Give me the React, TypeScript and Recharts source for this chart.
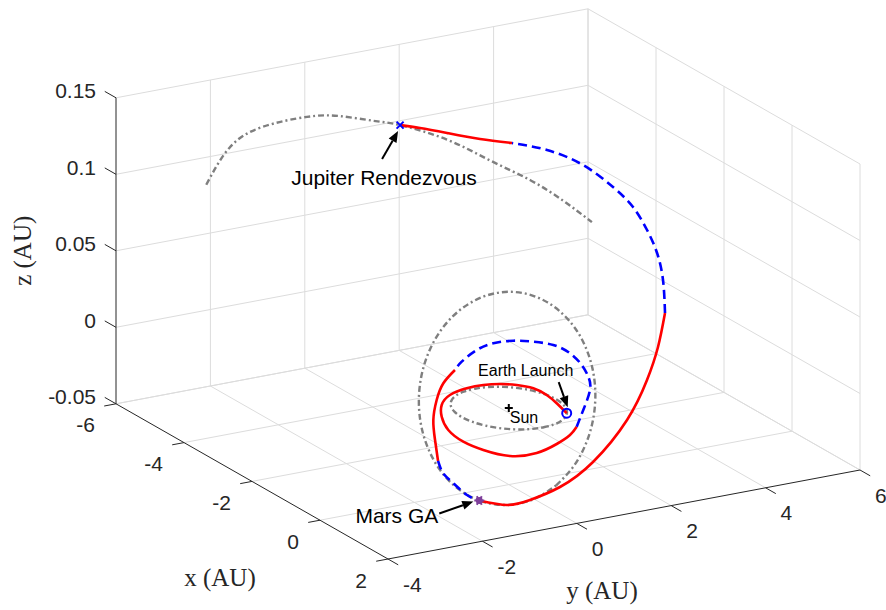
import React from 'react'
import { ComposedChart, XAxis, YAxis, Line, Scatter, ReferenceLine } from 'recharts'

type P3 = [number, number, number]

// axis ticks (AU)
const xTicks = [-6, -4, -2, 0, 2]
const yTicks = [-4, -2, 0, 2, 4, 6]
const zTicks = [-0.05, 0, 0.05, 0.1, 0.15]
const zTickLabels = ['-0.05', '0', '0.05', '0.1', '0.15']

// heliocentric orbits, x y z in AU
const earthOrbit: P3[] = [
  [1, 0, 0], [0.966, 0.259, 0], [0.866, 0.5, 0], [0.707, 0.707, 0], [0.5, 0.866, 0],
  [0.259, 0.966, 0], [0, 1, 0], [-0.259, 0.966, 0], [-0.5, 0.866, 0], [-0.707, 0.707, 0],
  [-0.866, 0.5, 0], [-0.966, 0.259, 0], [-1, 0, 0], [-0.966, -0.259, 0], [-0.866, -0.5, 0],
  [-0.707, -0.707, 0], [-0.5, -0.866, 0], [-0.259, -0.966, 0], [0, -1, 0], [0.259, -0.966, 0],
  [0.5, -0.866, 0], [0.707, -0.707, 0], [0.866, -0.5, 0], [0.966, -0.259, 0], [1, 0, 0],
]

const marsOrbit: P3[] = [
  [1.392, 0, -0.0329], [1.36, 0.365, -0.0241], [1.24, 0.716, -0.0135], [1.033, 1.033, -0.0017],
  [0.748, 1.295, 0.0109], [0.397, 1.48, 0.0232], [0, 1.569, 0.0346], [-0.415, 1.549, 0.0439],
  [-0.816, 1.414, 0.0504], [-1.169, 1.169, 0.0534], [-1.441, 0.832, 0.0524], [-1.606, 0.43, 0.0474],
  [-1.65, 0, 0.039], [-1.572, -0.421, 0.0279], [-1.383, -0.799, 0.0151], [-1.105, -1.105, 0.0018],
  [-0.762, -1.321, -0.0111], [-0.385, -1.437, -0.0225], [0, -1.455, -0.0321], [0.369, -1.378, -0.0391],
  [0.702, -1.216, -0.0434], [0.982, -0.982, -0.0448], [1.197, -0.691, -0.0435], [1.336, -0.358, -0.0394],
  [1.392, 0, -0.0329],
]

const jupiterArc: P3[] = [
  [-3.04, -4.22, 0.132], [-4.44, -2.71, 0.13], [-4.93, -1.66, 0.131], [-5.17, -0.55, 0.128],
  [-5.2, 0.16, 0.124], [-5.13, 0.82, 0.118], [-5.03, 1.32, 0.1135], [-4.75, 2.11, 0.103],
  [-4.4, 2.77, 0.09], [-4.0, 3.33, 0.079], [-3.6, 3.75, 0.068], [-3.22, 4.08, 0.057],
]

// events
const earthLaunch: P3 = [0.62, 0.78, 0]
const marsFlyby: P3 = [0.763, -1.175, -0.0439]
const jupiterArrival: P3 = [-5.03, 1.32, 0.1135]
const sun: P3 = [0, 0, 0]

// transfer trajectory, thrust arcs and coast arcs
const thrust1: P3[] = [
  earthLaunch, [0.045, 0.982, -0.002], [-0.29, 1.012, -0.001], [-0.588, 0.943, 0], [-0.837, 0.77, 0],
  [-0.998, 0.532, 0], [-1.081, 0.239, 0], [-1.134, -0.075, -0.001], [-1.056, -0.486, -0.002],
  [-0.788, -0.854, -0.003], [-0.453, -1.095, -0.005], [-0.068, -1.233, -0.008], [0.376, -1.235, -0.01],
  [0.726, -1.063, -0.012], [1.094, -0.763, -0.013], [1.291, -0.339, -0.011], [1.326, 0.06, -0.007],
  [1.311, 0.352, -0.003], [1.217, 0.562, 0],
]
const coast1: P3[] = [
  [1.217, 0.562, 0], [0.855, 0.962, 0.004], [0.485, 1.371, 0.01], [0.373, 1.416, 0.017],
  [0.167, 1.425, 0.022], [-0.194, 1.437, 0.025], [-0.549, 1.338, 0.0265], [-0.881, 1.154, 0.0255],
  [-1.126, 0.907, 0.0245], [-1.319, 0.622, 0.022], [-1.418, 0.341, 0.018], [-1.431, 0.033, 0.012],
  [-1.395, -0.136, 0.008],
]
const thrust2: P3[] = [
  [-1.395, -0.136, 0.008], [-1.32, -0.436, 0.002], [-1.197, -0.666, -0.006], [-0.92, -0.936, -0.014],
  [-0.548, -1.168, -0.021], [-0.246, -1.322, -0.03],
]
const coast2: P3[] = [
  [-0.246, -1.322, -0.03], [0.018, -1.407, -0.034], [0.241, -1.356, -0.038], [0.572, -1.298, -0.042],
  marsFlyby,
]
const thrust3: P3[] = [
  marsFlyby, [1.222, -0.918, -0.0425], [1.522, -0.647, -0.037], [1.712, -0.149, -0.029],
  [1.873, 0.435, -0.014], [1.621, 1.337, 0.005], [1.344, 1.96, 0.024], [1.094, 2.373, 0.04],
  [0.777, 2.75, 0.056],
]
const coast3: P3[] = [
  [0.777, 2.75, 0.056], [0.49, 2.914, 0.073], [0.113, 3.06, 0.085], [-0.258, 3.115, 0.095],
  [-0.66, 3.107, 0.105], [-1.224, 3.089, 0.111], [-1.94, 2.97, 0.117], [-2.666, 2.73, 0.119],
  [-3.311, 2.453, 0.117],
]
const thrust4: P3[] = [
  [-3.311, 2.453, 0.117], [-3.759, 2.098, 0.116], [-4.351, 1.825, 0.114], [-4.742, 1.535, 0.114],
  jupiterArrival,
]

// fixed 3-D view: screen position of the (2, -4, -0.05) corner and pixels per AU on each axis
const W = 886
const H = 610
const X0 = 2, Y0 = -4, Z0 = -0.05
const ORIGIN = [388, 559]
const EX = [34, 19.4]
const EY = [47.2, -8.9]
const EZ = [0, -1530]

const project = ([x, y, z]: P3) => {
  const dx = x - X0, dy = y - Y0, dz = z - Z0
  return {
    sx: ORIGIN[0] + EX[0] * dx + EY[0] * dy + EZ[0] * dz,
    sy: ORIGIN[1] + EX[1] * dx + EY[1] * dy + EZ[1] * dz,
  }
}
const proj = (pts: P3[]) => pts.map(project)

const xMin = xTicks[0], xMax = xTicks[xTicks.length - 1]
const yMin = yTicks[0], yMax = yTicks[yTicks.length - 1]
const zMin = zTicks[0], zMax = zTicks[zTicks.length - 1]

// grid on the floor and the two back walls
const gridSegs: [P3, P3][] = [
  ...xTicks.slice(0, -1).map((x) => [[x, yMin, zMin], [x, yMax, zMin]] as [P3, P3]),
  ...yTicks.slice(1).map((y) => [[xMin, y, zMin], [xMax, y, zMin]] as [P3, P3]),
  ...yTicks.slice(1).map((y) => [[xMin, y, zMin], [xMin, y, zMax]] as [P3, P3]),
  ...zTicks.map((z) => [[xMin, yMin, z], [xMin, yMax, z]] as [P3, P3]),
  ...xTicks.map((x) => [[x, yMax, zMin], [x, yMax, zMax]] as [P3, P3]),
  ...zTicks.map((z) => [[xMin, yMax, z], [xMax, yMax, z]] as [P3, P3]),
]
const axisSegs: [P3, P3][] = [
  [[xMin, yMin, zMin], [xMax, yMin, zMin]],
  [[xMax, yMin, zMin], [xMax, yMax, zMin]],
  [[xMin, yMin, zMin], [xMin, yMin, zMax]],
]
const tickSegs: [P3, P3][] = [
  ...xTicks.map((x) => [[x, yMin, zMin], [x, yMin - 0.25, zMin]] as [P3, P3]),
  ...yTicks.map((y) => [[xMax, y, zMin], [xMax + 0.3, y, zMin]] as [P3, P3]),
  ...zTicks.map((z) => [[xMin, yMin, z], [xMin - 0.33, yMin, z]] as [P3, P3]),
]

const xLabelData = xTicks.map((x) => ({ ...project([x, yMin, zMin]), label: String(x) }))
const yLabelData = yTicks.map((y) => ({ ...project([xMax, y, zMin]), label: String(y) }))
const zLabelData = zTicks.map((z, i) => ({ ...project([xMin, yMin, z]), label: zTickLabels[i] }))

const SANS = '"Liberation Sans", Arial, Helvetica, sans-serif'
const SERIF = '"Liberation Serif", "Times New Roman", serif'
const INK = '#262626'
const GRAY = '#7f7f7f'
const RED = '#ff0000'
const BLUE = '#0000ff'

function Arrow({ x1, y1, x2, y2 }: { x1: number; y1: number; x2: number; y2: number }) {
  const a = Math.atan2(y2 - y1, x2 - x1)
  const len = 11
  const half = 4.5
  const bx = x2 - len * Math.cos(a)
  const by = y2 - len * Math.sin(a)
  const px = -Math.sin(a) * half
  const py = Math.cos(a) * half
  return (
    <g>
      <line x1={x1} y1={y1} x2={bx} y2={by} stroke="#000" strokeWidth={2} />
      <polygon points={`${x2},${y2} ${bx + px},${by + py} ${bx - px},${by - py}`} fill="#000" />
    </g>
  )
}

const seg = (s: [P3, P3]) => {
  const a = project(s[0])
  const b = project(s[1])
  return [{ x: a.sx, y: a.sy }, { x: b.sx, y: b.sy }]
}

export default function App() {
  const orbitLine = (data: P3[], key: string) => (
    <Line
      key={key}
      data={proj(data)}
      dataKey="sy"
      type="natural"
      dot={false}
      stroke={GRAY}
      strokeWidth={2.4}
      strokeDasharray="6 3 2 3"
      isAnimationActive={false}
    />
  )
  const pathLine = (data: P3[], key: string, coast: boolean) => (
    <Line
      key={key}
      data={proj(data)}
      dataKey="sy"
      type="natural"
      dot={false}
      stroke={coast ? BLUE : RED}
      strokeWidth={2.6}
      strokeDasharray={coast ? '9 5' : undefined}
      isAnimationActive={false}
    />
  )

  return (
    <div style={{ position: 'absolute', left: 0, top: 0, width: W, height: H, background: '#fff' }}>
      <ComposedChart width={W} height={H} margin={{ top: 0, right: 0, bottom: 0, left: 0 }}>
        <XAxis type="number" dataKey="sx" domain={[0, W]} allowDataOverflow hide />
        <YAxis type="number" dataKey="sy" domain={[0, H]} allowDataOverflow reversed hide />

        {gridSegs.map((s, i) => (
          <ReferenceLine key={'g' + i} segment={seg(s)} stroke="#dcdcdc" strokeWidth={1} ifOverflow="visible" />
        ))}
        {axisSegs.map((s, i) => (
          <ReferenceLine key={'a' + i} segment={seg(s)} stroke={INK} strokeWidth={1} ifOverflow="visible" />
        ))}
        {tickSegs.map((s, i) => (
          <ReferenceLine key={'t' + i} segment={seg(s)} stroke={INK} strokeWidth={1} ifOverflow="visible" />
        ))}

        {orbitLine(earthOrbit, 'earth')}
        {orbitLine(marsOrbit, 'mars')}
        {orbitLine(jupiterArc, 'jupiter')}

        {pathLine(thrust1, 'th1', false)}
        {pathLine(coast1, 'co1', true)}
        {pathLine(thrust2, 'th2', false)}
        {pathLine(coast2, 'co2', true)}
        {pathLine(thrust3, 'th3', false)}
        {pathLine(coast3, 'co3', true)}
        {pathLine(thrust4, 'th4', false)}

        {/* tick labels */}
        <Scatter
          data={xLabelData}
          isAnimationActive={false}
          shape={(p: any) => (
            <text x={p.cx - 21} y={p.cy + 21} textAnchor="end" dominantBaseline="central" fontFamily={SANS} fontSize={21} fill={INK}>
              {p.payload.label}
            </text>
          )}
        />
        <Scatter
          data={yLabelData}
          isAnimationActive={false}
          shape={(p: any) => (
            <text x={p.cx + 15} y={p.cy + 25} textAnchor="start" dominantBaseline="central" fontFamily={SANS} fontSize={21} fill={INK}>
              {p.payload.label}
            </text>
          )}
        />
        <Scatter
          data={zLabelData}
          isAnimationActive={false}
          shape={(p: any) => (
            <text x={p.cx - 20} y={p.cy - 7} textAnchor="end" dominantBaseline="central" fontFamily={SANS} fontSize={21} fill={INK}>
              {p.payload.label}
            </text>
          )}
        />

        {/* axis titles */}
        <Scatter
          data={[project([(xMin + xMax) / 2, yMin, zMin])]}
          isAnimationActive={false}
          shape={(p: any) => (
            <text x={p.cx - 32} y={p.cy + 96} textAnchor="middle" dominantBaseline="central" fontFamily={SERIF} fontSize={25} fill={INK}>
              x (AU)
            </text>
          )}
        />
        <Scatter
          data={[project([xMax, (yMin + yMax) / 2, zMin])]}
          isAnimationActive={false}
          shape={(p: any) => (
            <text x={p.cx - 22} y={p.cy + 76} textAnchor="middle" dominantBaseline="central" fontFamily={SERIF} fontSize={25} fill={INK}>
              y (AU)
            </text>
          )}
        />
        <Scatter
          data={[project([xMin, yMin, (zMin + zMax) / 2])]}
          isAnimationActive={false}
          shape={(p: any) => (
            <text
              transform={`translate(${p.cx - 94}, ${p.cy}) rotate(-90)`}
              textAnchor="middle"
              dominantBaseline="central"
              fontFamily={SERIF}
              fontSize={25}
              fill={INK}
            >
              z (AU)
            </text>
          )}
        />

        {/* Sun */}
        <Scatter
          data={[project(sun)]}
          isAnimationActive={false}
          shape={(p: any) => (
            <g>
              <path d={`M${p.cx - 4},${p.cy}H${p.cx + 4}M${p.cx},${p.cy - 4}V${p.cy + 4}`} stroke="#000" strokeWidth={2} />
              <text x={p.cx + 1} y={p.cy + 15} fontFamily={SANS} fontSize={16} fill="#000">
                Sun
              </text>
            </g>
          )}
        />

        {/* Earth launch */}
        <Scatter
          data={[project(earthLaunch)]}
          isAnimationActive={false}
          shape={(p: any) => (
            <g>
              <circle cx={p.cx} cy={p.cy} r={4.5} fill="none" stroke={BLUE} strokeWidth={2} />
              <Arrow x1={p.cx - 8} y1={p.cy - 31} x2={p.cx + 1} y2={p.cy - 6} />
              <text x={p.cx - 41} y={p.cy - 37} textAnchor="middle" fontFamily={SANS} fontSize={16} fill="#000">
                Earth Launch
              </text>
            </g>
          )}
        />

        {/* Mars gravity assist */}
        <Scatter
          data={[project(marsFlyby)]}
          isAnimationActive={false}
          shape={(p: any) => (
            <g>
              <circle cx={p.cx} cy={p.cy} r={3.5} fill="#7e3f9a" />
              <path
                d={`M${p.cx - 5},${p.cy}H${p.cx + 5}M${p.cx - 2.5},${p.cy - 4.3}L${p.cx + 2.5},${p.cy + 4.3}M${p.cx + 2.5},${p.cy - 4.3}L${p.cx - 2.5},${p.cy + 4.3}`}
                stroke="#7e3f9a"
                strokeWidth={2}
              />
              <Arrow x1={p.cx - 40} y1={p.cy + 13} x2={p.cx - 6} y2={p.cy + 1} />
              <text x={p.cx - 41} y={p.cy + 22} textAnchor="end" fontFamily={SANS} fontSize={21} fill="#000">
                Mars GA
              </text>
            </g>
          )}
        />

        {/* Jupiter rendezvous */}
        <Scatter
          data={[project(jupiterArrival)]}
          isAnimationActive={false}
          shape={(p: any) => (
            <g>
              <path
                d={`M${p.cx - 3.5},${p.cy - 3.5}L${p.cx + 3.5},${p.cy + 3.5}M${p.cx + 3.5},${p.cy - 3.5}L${p.cx - 3.5},${p.cy + 3.5}`}
                stroke={BLUE}
                strokeWidth={2}
              />
              <Arrow x1={p.cx - 18} y1={p.cy + 34} x2={p.cx - 2} y2={p.cy + 6} />
              <text x={p.cx - 16} y={p.cy + 60} textAnchor="middle" fontFamily={SANS} fontSize={21} fill="#000">
                Jupiter Rendezvous
              </text>
            </g>
          )}
        />
      </ComposedChart>
    </div>
  )
}
